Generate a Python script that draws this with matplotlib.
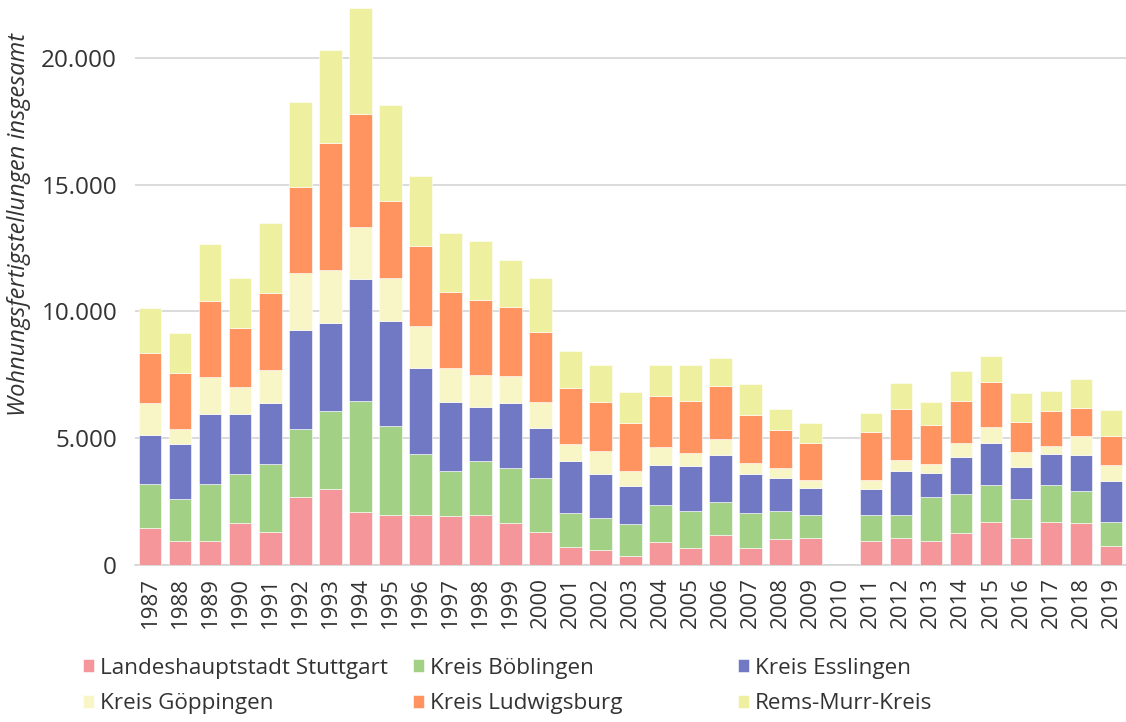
import matplotlib.pyplot as plt
import numpy as np
from matplotlib.ticker import FuncFormatter

plt.rcParams['font.family'] = ['Open Sans', 'DejaVu Sans']

years = [str(y) for y in range(1987, 2020)]

# 2010 hat keine Werte
stuttgart = [1460, 950, 950, 1650, 1310, 2670, 2990, 2085, 1970, 1970,
             1920, 1990, 1670, 1290, 720, 590, 355, 910, 660, 1170,
             660, 1040, 1080, 0, 960, 1080, 960, 1280, 1710, 1080,
             1710, 1650, 760]
boeblingen = [1720, 1650, 2230, 1950, 2670, 2700, 3090, 4370, 3530, 2400,
              1790, 2100, 2170, 2160, 1340, 1280, 1260, 1460, 1460, 1330,
              1400, 1080, 890, 0, 1010, 900, 1710, 1530, 1460, 1530,
              1460, 1280, 950]
esslingen = [1950, 2160, 2770, 2350, 2400, 3880, 3470, 4810, 4110, 3400,
             2720, 2150, 2530, 1960, 2030, 1710, 1510, 1590, 1780, 1840,
             1530, 1330, 1080, 0, 1010, 1710, 950, 1450, 1650, 1260,
             1210, 1400, 1590]
goeppingen = [1250, 610, 1460, 1080, 1330, 2260, 2085, 2085, 1720, 1650,
              1330, 1260, 1070, 1010, 700, 900, 580, 680, 510, 620,
              450, 380, 320, 0, 380, 450, 380, 570, 630, 580,
              320, 760, 630]
ludwigsburg = [2000, 2190, 3020, 2320, 3030, 3410, 5000, 4430, 3020, 3150,
               3010, 2950, 2720, 2780, 2200, 1930, 1890, 2030, 2070, 2090,
               1870, 1510, 1450, 0, 1890, 2030, 1510, 1640, 1760, 1200,
               1380, 1110, 1170]
rems_murr = [1750, 1600, 2230, 1980, 2740, 3350, 3670, 4170, 3790, 2770,
             2320, 2320, 1860, 2110, 1460, 1460, 1240, 1200, 1390, 1130,
             1210, 800, 790, 0, 740, 990, 930, 1200, 1030, 1120,
             800, 1140, 1030]

series = [
    ('Landeshauptstadt Stuttgart', stuttgart, '#F4969A'),
    ('Kreis Böblingen', boeblingen, '#A2D186'),
    ('Kreis Esslingen', esslingen, '#7279C4'),
    ('Kreis Göppingen', goeppingen, '#F8F6C6'),
    ('Kreis Ludwigsburg', ludwigsburg, '#FF9460'),
    ('Rems-Murr-Kreis', rems_murr, '#EEEF9F'),
]

fig = plt.figure(figsize=(11.26, 7.22), dpi=100)
ax = fig.add_axes([0.12, 0.2175, 0.88, 0.7725])

x = np.arange(len(years))
bottom = np.zeros(len(years))
handles = []
for name, vals, col in series:
    vals = np.array(vals, dtype=float)
    b = ax.bar(x, vals, 0.75, bottom=bottom, color=col, label=name,
               edgecolor='white', linewidth=0.4, zorder=3)
    handles.append(b)
    bottom += vals

ax.set_xlim(-0.5, len(years) - 0.5)
ax.set_ylim(0, 22000)
ax.set_yticks([0, 5000, 10000, 15000, 20000])
ax.yaxis.set_major_formatter(FuncFormatter(lambda v, p: f'{int(v):,}'.replace(',', '.')))
ax.set_xticks(x)
ax.set_xticklabels(years, rotation=90)
ax.tick_params(axis='both', length=0, colors='#333333')
ax.tick_params(axis='x', pad=9, labelsize=16)
ax.tick_params(axis='y', pad=13, labelsize=17.5)
ax.grid(axis='y', color='#d4d4d4', linewidth=1.2, zorder=0)
for s in ['top', 'right', 'left']:
    ax.spines[s].set_visible(False)
ax.spines['bottom'].set_color('#d4d4d4')
ax.spines['bottom'].set_linewidth(1.2)

ax.set_ylabel('Wohnungsfertigstellungen insgesamt', fontsize=17, style='italic',
              color='#333333')
ax.yaxis.set_label_coords(-0.105, 0.61)

# Legende: drei Spalten mit je zwei Einträgen
W, H = 1126, 722
col_x = [83, 413, 738]
for c in range(3):
    idx = [c, c + 3]
    leg = fig.legend([handles[i] for i in idx], [series[i][0] for i in idx],
                     loc='center left', bbox_to_anchor=(col_x[c] / W, 1 - 686 / H),
                     frameon=False, fontsize=16.2, handlelength=0.5, handleheight=0.5,
                     handletextpad=0.25, labelspacing=0.66, borderpad=0,
                     borderaxespad=0, labelcolor='#333333')

fig.savefig('out.png', dpi=100)
